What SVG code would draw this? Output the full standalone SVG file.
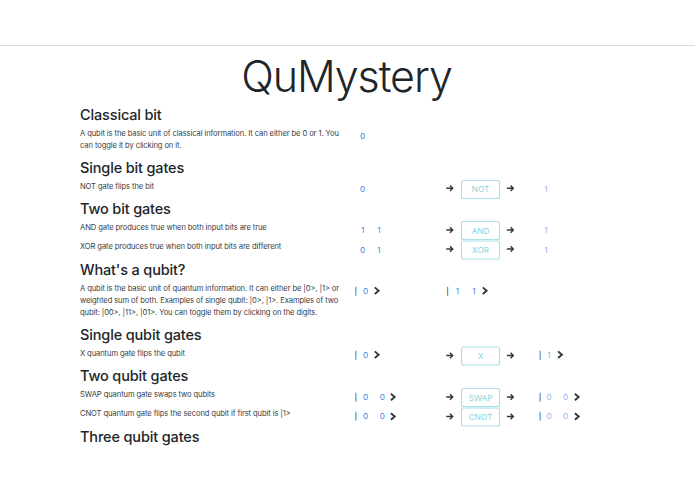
<svg xmlns="http://www.w3.org/2000/svg" width="695" height="494" viewBox="0 0 695 494">
<style>
text{font-family:Inter,"Noto Sans","Liberation Sans",sans-serif}
.h{font-size:14.5px;font-weight:500;fill:#212529;letter-spacing:-.15px}
.p{font-size:7.6px;fill:#3a4046;letter-spacing:-.1px}
.b{font-size:8.2px;fill:#3d84e6;text-anchor:middle}
.o{font-size:8.2px;fill:#8fb6ee;text-anchor:middle}
.bar{font-size:7.5px;fill:#33383d;text-anchor:middle;font-weight:500;text-rendering:geometricPrecision}
.g rect{fill:#fff;stroke:#aadfe7;stroke-width:1.1}
.g text{font-size:8.2px;fill:#86d3de;text-anchor:middle}
.ch{fill:none;stroke:#33383d;stroke-width:1.9}
.ar{fill:none;stroke:#33383d;stroke-width:1.4}
</style>
<defs>
<g id="arrow"><path class="ar" d="M-3.4 0H3M0.3 -2.7L3 0L0.3 2.7"/></g>
<path id="chev" class="ch" d="M-1.9 -3.3L1.9 0L-1.9 3.3"/>
</defs>
<rect width="695" height="494" fill="#fff"/>
<rect x="0" y="45" width="695" height="1" fill="#dcdcdc"/>
<text id="title" x="346.500" y="92" text-anchor="middle" style="font-size:43px;font-weight:300;fill:#212529;letter-spacing:-1.1px">QuMystery</text>
<g id="headings">
<text class="h" x="80" y="119.500">Classical bit</text>
<text class="h" x="80" y="172.500">Single bit gates</text>
<text class="h" x="80" y="214">Two bit gates</text>
<text class="h" x="80" y="274.500">What's a qubit?</text>
<text class="h" x="80" y="339.500">Single qubit gates</text>
<text class="h" x="80" y="381">Two qubit gates</text>
<text class="h" x="80" y="441.500">Three qubit gates</text>
</g>
<g id="descriptions">
<text class="p" x="80" y="135.500">A qubit is the basic unit of classical information. It can either be 0 or 1. You</text>
<text class="p" x="80" y="147.500">can toggle it by clicking on it.</text>
<text class="p" x="80" y="188.500">NOT gate flips the bit</text>
<text class="p" x="80" y="230">AND gate produces true when both input bits are true</text>
<text class="p" x="80" y="249">XOR gate produces true when both input bits are different</text>
<text class="p" x="80" y="291">A qubit is the basic unit of quantum information. It can either be |0&gt;, |1&gt; or</text>
<text class="p" x="80" y="303">weighted sum of both. Examples of single qubit: |0&gt;, |1&gt;. Examples of two</text>
<text class="p" x="80" y="315">qubit: |00&gt;, |11&gt;, |01&gt;. You can toggle them by clicking on the digits.</text>
<text class="p" x="80" y="355.500">X quantum gate flips the qubit</text>
<text class="p" x="80" y="397">SWAP quantum gate swaps two qubits</text>
<text class="p" x="80" y="416">CNOT quantum gate flips the second qubit if first qubit is |1&gt;</text>
</g>
<g id="bits">
<text class="b" x="362.700" y="138.500">0</text>
<text class="b" x="362.700" y="191.500">0</text>
<text class="o" x="546" y="191.500">1</text>
<text class="b" x="362.700" y="233">1</text><text class="b" x="379" y="233">1</text>
<text class="o" x="546" y="233">1</text>
<text class="b" x="362.700" y="252.500">0</text><text class="b" x="379" y="252.500">1</text>
<text class="o" x="546" y="252.500">1</text>
</g>
<g id="qubits">
<text class="bar" x="355.700" y="293.500">|</text><text class="b" x="365.700" y="293.500">0</text>
<text class="bar" x="447.500" y="293.500">|</text><text class="b" x="457.300" y="293.500">1</text><text class="b" x="474" y="293.500">1</text>
<text class="bar" x="355.700" y="358">|</text><text class="b" x="365.700" y="358">0</text>
<text class="bar" x="540" y="358">|</text><text class="o" x="549" y="358">1</text>
<text class="bar" x="355.700" y="399.500">|</text><text class="b" x="365.700" y="399.500">0</text><text class="b" x="382.300" y="399.500">0</text>
<text class="bar" x="540" y="399.500">|</text><text class="o" x="549" y="399.500">0</text><text class="o" x="565.700" y="399.500">0</text>
<text class="bar" x="355.700" y="419">|</text><text class="b" x="365.700" y="419">0</text><text class="b" x="382.300" y="419">0</text>
<text class="bar" x="540" y="419">|</text><text class="o" x="549" y="419">0</text><text class="o" x="565.700" y="419">0</text>
<use href="#chev" x="376.700" y="290.700"/><use href="#chev" x="484.700" y="290.700"/>
<use href="#chev" x="376.700" y="354.700"/><use href="#chev" x="560" y="354.700"/>
<use href="#chev" x="392.800" y="397"/><use href="#chev" x="576.800" y="397"/>
<use href="#chev" x="392.800" y="416.500"/><use href="#chev" x="576.800" y="416.500"/>
</g>
<g id="gate-not" class="g"><rect x="461.500" y="180.500" width="38" height="18" rx="2"/><text x="480.500" y="192">NOT</text></g>
<g id="gate-and" class="g"><rect x="461.500" y="221.500" width="38" height="18" rx="2"/><text x="480.500" y="233.500">AND</text></g>
<g id="gate-xor" class="g"><rect x="461.500" y="241" width="38" height="18" rx="2"/><text x="480.500" y="253">XOR</text></g>
<g id="gate-x" class="g"><rect x="461.500" y="347" width="38" height="18" rx="2"/><text x="480.500" y="359">X</text></g>
<g id="gate-swap" class="g"><rect x="461.500" y="388.500" width="38" height="18" rx="2"/><text x="480.500" y="400.500">SWAP</text></g>
<g id="gate-cnot" class="g"><rect x="461.500" y="408" width="38" height="18" rx="2"/><text x="480.500" y="420">CNOT</text></g>
<g id="connectors">
<use href="#arrow" x="449.700" y="188.300"/><use href="#arrow" x="510.300" y="188.300"/>
<use href="#arrow" x="449.700" y="230"/><use href="#arrow" x="510.300" y="230"/>
<use href="#arrow" x="449.700" y="249"/><use href="#arrow" x="510.300" y="249"/>
<use href="#arrow" x="449.700" y="355.500"/><use href="#arrow" x="510.300" y="355.500"/>
<use href="#arrow" x="449.700" y="397"/><use href="#arrow" x="510.300" y="397"/>
<use href="#arrow" x="449.700" y="416.500"/><use href="#arrow" x="510.300" y="416.500"/>
</g>
</svg>
